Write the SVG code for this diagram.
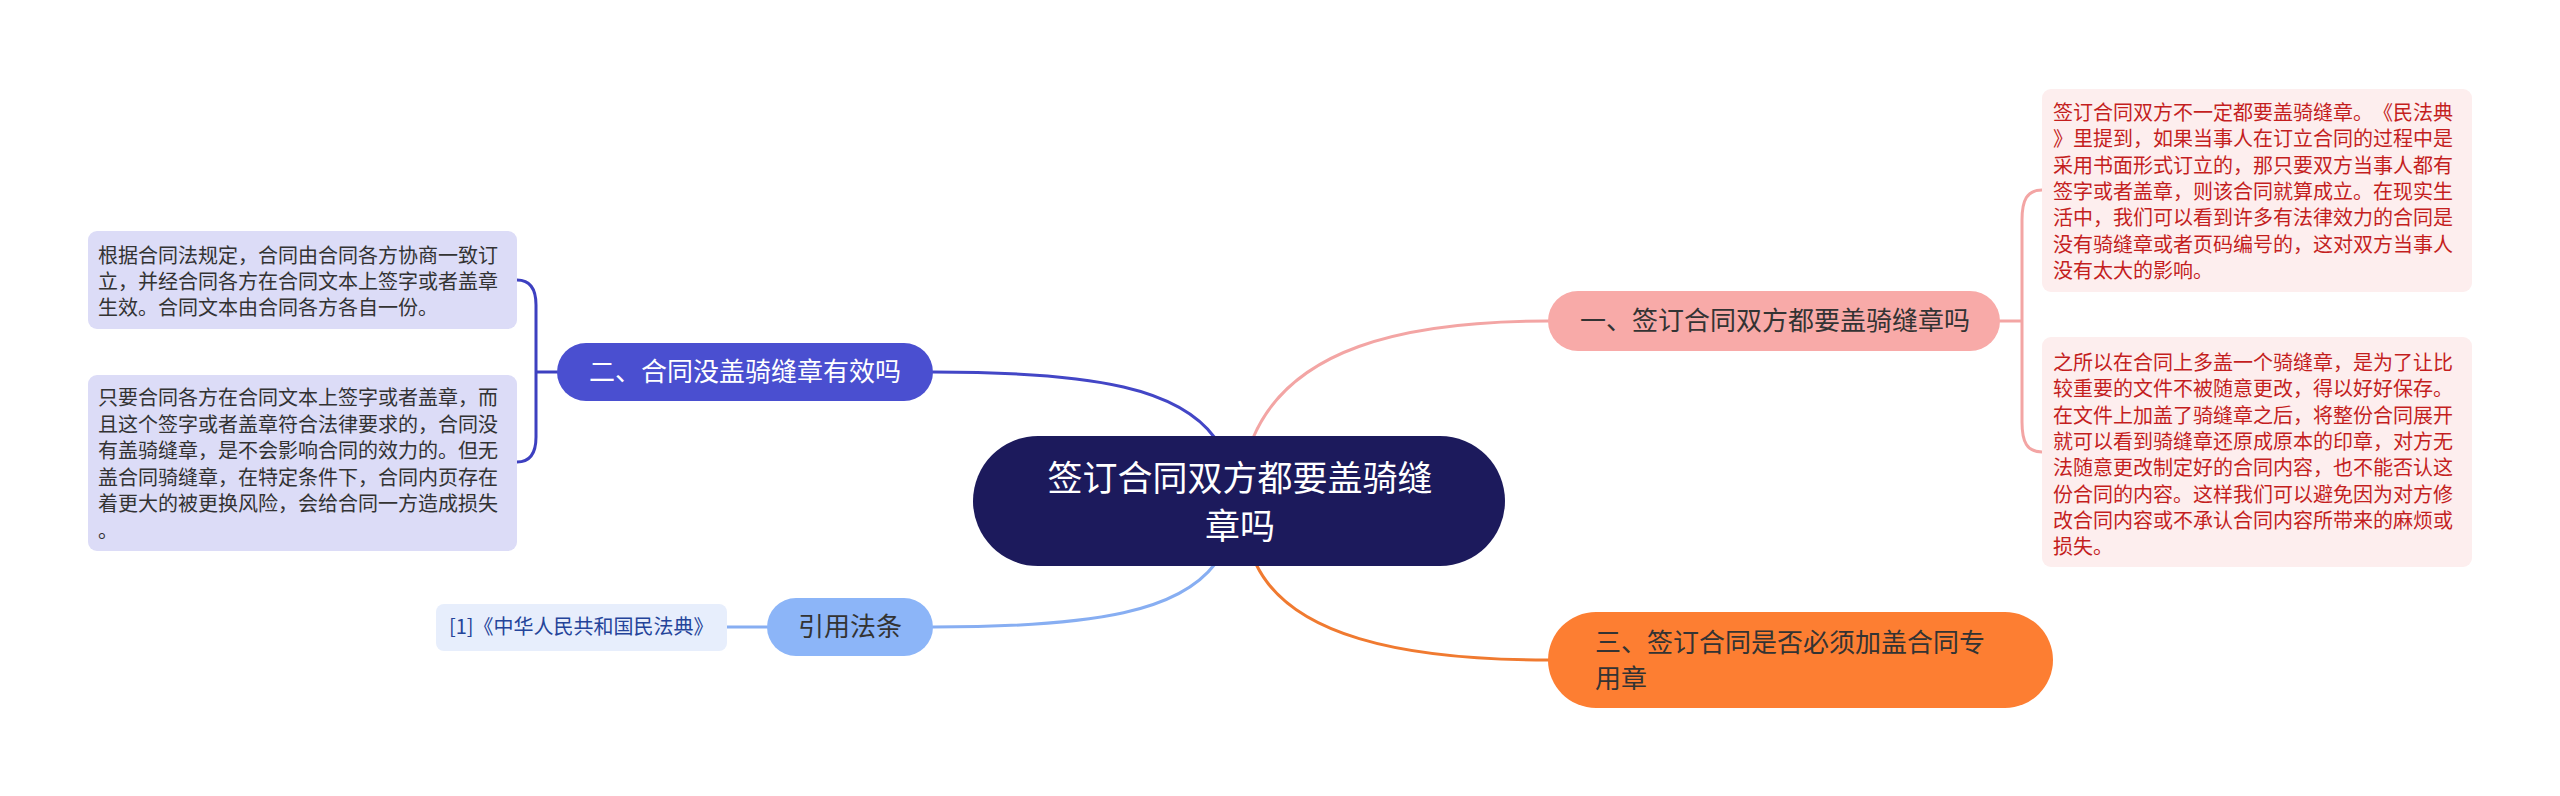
<svg xmlns="http://www.w3.org/2000/svg" width="2560" height="796" viewBox="0 0 2560 796">
<style>
text{font-family:"Noto Sans CJK SC","Noto Sans",sans-serif;text-spacing-trim:space-all;}
.c{fill:none;stroke-width:3;stroke-linecap:round;}
.leafR{fill:#fdeeee;}
.leafL{fill:#dcdcf7;}
.tR{font-size:20px;fill:#c41e1e;}
.tL{font-size:20px;fill:#333333;}
.t26{font-size:26px;}
</style>
<rect width="2560" height="796" fill="#ffffff"/>
<g id="connectors">
<path class="c" stroke="#f3a5a4" d="M1253,438 C1290,350 1400,321 1548,321"/>
<path class="c" stroke="#4346c6" d="M1215,438 C1180,390 1100,372 933,372"/>
<path class="c" stroke="#87aef2" d="M1215,564 C1180,610 1100,627 933,627"/>
<path class="c" stroke="#f07a30" d="M1256,564 C1290,635 1400,660 1548,660"/>
<path class="c" stroke="#f3a5a4" d="M2000,321 L2022,321 M2042,190 C2027,190 2022,200 2022,220 L2022,422 C2022,442 2027,452 2042,452"/>
<path class="c" stroke="#3d40c0" d="M557,372 L536,372 M517,280 C531,280 536,290 536,305 L536,437 C536,452 531,462 517,462"/>
<path class="c" stroke="#87aef2" d="M727,627 L767,627"/>
</g>
<g id="root">
<rect x="973" y="436" width="532" height="130" rx="65" fill="#1c1a5c"/>
<text x="1240" y="491" font-size="35" fill="#ffffff" text-anchor="middle">签订合同双方都要盖骑缝</text>
<text x="1240" y="539" font-size="35" fill="#ffffff" text-anchor="middle">章吗</text>
</g>
<g id="node1">
<rect x="1548" y="291" width="452" height="60" rx="30" fill="#f8aaa8"/>
<text class="t26" x="1775" y="330" fill="#333333" text-anchor="middle">一、签订合同双方都要盖骑缝章吗</text>
</g>
<g id="node2">
<rect x="557" y="343" width="376" height="58" rx="29" fill="#4a4fd0"/>
<text class="t26" x="745" y="381" fill="#ffffff" text-anchor="middle">二、合同没盖骑缝章有效吗</text>
</g>
<g id="node3">
<rect x="1548" y="612" width="505" height="96" rx="48" fill="#fd7e32"/>
<text class="t26" x="1595" y="652" fill="#333333">三、签订合同是否必须加盖合同专</text>
<text class="t26" x="1595" y="688" fill="#333333">用章</text>
</g>
<g id="node4">
<rect x="767" y="598" width="166" height="58" rx="29" fill="#8cb5f8"/>
<text class="t26" x="850" y="636" fill="#333333" text-anchor="middle">引用法条</text>
</g>
<g id="leaf-ref">
<rect x="436" y="604" width="291" height="47" rx="8" fill="#e7eefc"/>
<text x="449" y="634" font-size="20" fill="#24449a">[1]《中华人民共和国民法典》</text>
</g>
<g id="leaf-r1">
<rect class="leafR" x="2042" y="89" width="430" height="203" rx="9"/>
<text class="tR" x="2053" y="120">签订合同双方不一定都要盖骑缝章。《民法典</text>
<text class="tR" x="2053" y="146.3">》里提到，如果当事人在订立合同的过程中是</text>
<text class="tR" x="2053" y="172.6">采用书面形式订立的，那只要双方当事人都有</text>
<text class="tR" x="2053" y="198.9">签字或者盖章，则该合同就算成立。在现实生</text>
<text class="tR" x="2053" y="225.2">活中，我们可以看到许多有法律效力的合同是</text>
<text class="tR" x="2053" y="251.5">没有骑缝章或者页码编号的，这对双方当事人</text>
<text class="tR" x="2053" y="277.8">没有太大的影响。</text>
</g>
<g id="leaf-r2">
<rect class="leafR" x="2042" y="337" width="430" height="230" rx="9"/>
<text class="tR" x="2053" y="370">之所以在合同上多盖一个骑缝章，是为了让比</text>
<text class="tR" x="2053" y="396.3">较重要的文件不被随意更改，得以好好保存。</text>
<text class="tR" x="2053" y="422.6">在文件上加盖了骑缝章之后，将整份合同展开</text>
<text class="tR" x="2053" y="448.9">就可以看到骑缝章还原成原本的印章，对方无</text>
<text class="tR" x="2053" y="475.2">法随意更改制定好的合同内容，也不能否认这</text>
<text class="tR" x="2053" y="501.5">份合同的内容。这样我们可以避免因为对方修</text>
<text class="tR" x="2053" y="527.8">改合同内容或不承认合同内容所带来的麻烦或</text>
<text class="tR" x="2053" y="554.1">损失。</text>
</g>
<g id="leaf-l1">
<rect class="leafL" x="88" y="231" width="429" height="98" rx="9"/>
<text class="tL" x="98" y="263">根据合同法规定，合同由合同各方协商一致订</text>
<text class="tL" x="98" y="289">立，并经合同各方在合同文本上签字或者盖章</text>
<text class="tL" x="98" y="315">生效。合同文本由合同各方各自一份。</text>
</g>
<g id="leaf-l2">
<rect class="leafL" x="88" y="375" width="429" height="176" rx="9"/>
<text class="tL" x="98" y="405">只要合同各方在合同文本上签字或者盖章，而</text>
<text class="tL" x="98" y="431.5">且这个签字或者盖章符合法律要求的，合同没</text>
<text class="tL" x="98" y="458">有盖骑缝章，是不会影响合同的效力的。但无</text>
<text class="tL" x="98" y="484.5">盖合同骑缝章，在特定条件下，合同内页存在</text>
<text class="tL" x="98" y="511">着更大的被更换风险，会给合同一方造成损失</text>
<text class="tL" x="98" y="537.5">。</text>
</g>
</svg>
